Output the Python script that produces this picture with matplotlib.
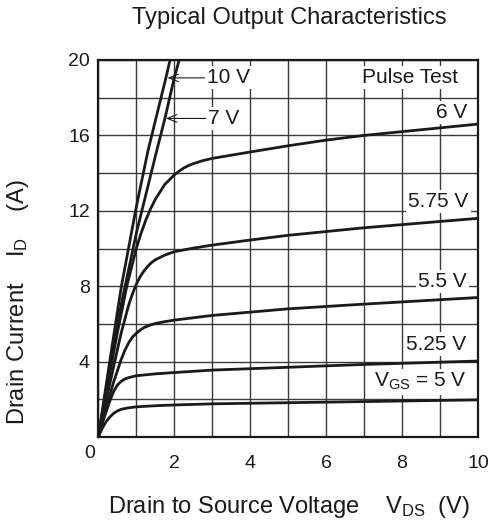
import matplotlib
matplotlib.use("Agg")
import matplotlib.pyplot as plt
from matplotlib.ticker import MultipleLocator

# ------------------------------------------------------------
# Fonts
# ------------------------------------------------------------
plt.rcParams["font.family"] = ["Liberation Sans", "DejaVu Sans"]
plt.rcParams["mathtext.fontset"] = "custom"
plt.rcParams["mathtext.rm"] = "Liberation Sans"
plt.rcParams["mathtext.it"] = "Liberation Sans"
plt.rcParams["mathtext.bf"] = "Liberation Sans:bold"

# ------------------------------------------------------------
# Data (V_DS in V, I_D in A)
# ------------------------------------------------------------
VDS_10V = [0, 0.3, 0.6, 1.0, 1.31, 1.78, 1.89, 2.0]
ID_10V = [0, 4.0, 7.9, 12.2, 15.2, 19.05, 20.0, 20.9]

VDS_7V = [0, 0.3, 0.6, 1.0, 1.54, 1.755, 2.0, 2.13, 2.25]
ID_7V = [0, 3.6, 7.0, 10.8, 15.2, 16.9, 19.05, 20.0, 21.0]

VDS_6V = [0, 0.25, 0.5, 0.75, 1.0, 1.125, 1.25, 1.375, 1.5, 1.625, 1.75, 1.875, 2.0,
          2.125, 2.25, 2.375, 2.5, 2.75, 3.0, 3.5, 4, 5, 6, 7, 8, 9, 10]
ID_6V = [0, 2.8, 5.5, 8.0, 10.0, 10.8, 11.5, 12.1, 12.6, 13.0, 13.4, 13.65, 13.9,
         14.1, 14.27, 14.4, 14.5, 14.66, 14.78, 14.95, 15.12, 15.45, 15.75, 16.0, 16.2, 16.4, 16.6]

VDS_575V = [0, 0.2, 0.4, 0.6, 0.8, 0.9, 1.0, 1.1, 1.2, 1.3, 1.4, 1.5, 1.75, 2.0,
            2.5, 3, 4, 5, 7, 10]
ID_575V = [0, 1.9, 3.7, 5.5, 7.0, 7.6, 8.1, 8.5, 8.8, 9.05, 9.25, 9.4, 9.65, 9.83,
           10.02, 10.18, 10.45, 10.7, 11.1, 11.6]

VDS_55V = [0, 0.1, 0.2, 0.3, 0.4, 0.5, 0.6, 0.7, 0.8, 0.9, 1.0, 1.1, 1.2, 1.35,
           1.5, 1.75, 2, 3, 5, 7, 10]
ID_55V = [0, 0.75, 1.5, 2.2, 2.9, 3.5, 4.1, 4.6, 5.0, 5.3, 5.5, 5.67, 5.8, 5.93,
          6.02, 6.12, 6.2, 6.45, 6.8, 7.05, 7.4]

VDS_525V = [0, 0.1, 0.2, 0.3, 0.4, 0.5, 0.6, 0.7, 0.8, 1.0, 1.5, 2, 3, 5, 7, 10]
ID_525V = [0, 0.7, 1.3, 1.9, 2.4, 2.75, 2.95, 3.08, 3.15, 3.25, 3.35, 3.42, 3.55, 3.7, 3.85, 4.03]

VDS_5V = [0, 0.1, 0.2, 0.3, 0.4, 0.5, 0.6, 0.8, 1.0, 1.5, 2, 3, 5, 7, 10]
ID_5V = [0, 0.45, 0.8, 1.05, 1.25, 1.38, 1.47, 1.55, 1.6, 1.66, 1.7, 1.76, 1.82, 1.88, 1.97]

X_TICKS = [2, 4, 6, 8, 10]
Y_TICKS = [4, 8, 12, 16, 20]

# ------------------------------------------------------------
# Draw
# ------------------------------------------------------------
fig = plt.figure(figsize=(4.91, 5.24), dpi=100)
ax = fig.add_axes([0.2002, 0.166, 0.7733, 0.7195])

curves = [
    (VDS_10V, ID_10V),
    (VDS_7V, ID_7V),
    (VDS_6V, ID_6V),
    (VDS_575V, ID_575V),
    (VDS_55V, ID_55V),
    (VDS_525V, ID_525V),
    (VDS_5V, ID_5V),
]
for vx, iy in curves:
    ax.plot(vx, iy, color="#1a1a1a", lw=2.0, solid_capstyle="round",
            solid_joinstyle="round", zorder=3)

ax.set_xlim(0, 10)
ax.set_ylim(0, 20)
ax.set_xticks(X_TICKS)
ax.set_yticks(Y_TICKS)
ax.xaxis.set_minor_locator(MultipleLocator(1))
ax.yaxis.set_minor_locator(MultipleLocator(2))
ax.tick_params(which="both", length=0, labelsize=14, colors="#1a1a1a")
ax.tick_params(axis="x", pad=13)
ax.tick_params(axis="y", pad=6)
ax.grid(which="both", color="#3a3a3a", lw=1.0, zorder=1)
for sp in ax.spines.values():
    sp.set_linewidth(1.6)
    sp.set_color("#1a1a1a")
    sp.set_zorder(4)

ax.text(-0.22, -0.85, "0", fontsize=14, ha="center", va="center", color="#1a1a1a", clip_on=False)

box = dict(facecolor="white", edgecolor="none", pad=1.5)
lab = dict(fontsize=15, color="#1a1a1a", va="center", bbox=box, zorder=2.5)

ax.text(9.47, 19.05, "Pulse Test", ha="right", **lab)
ax.text(9.73, 17.2, "6 V", ha="right", **lab)
ax.text(9.75, 12.5, "5.75 V", ha="right", **lab)
ax.text(9.7, 8.24, "5.5 V", ha="right", **lab)
ax.text(9.7, 4.93, "5.25 V", ha="right", **lab)
ax.text(9.7, 2.93, r"V$_{\rm GS}$ = 5 V", ha="right", **lab)

arrow = dict(arrowstyle="->,head_length=0.45,head_width=0.18", lw=0.8, color="#1a1a1a", shrinkA=0, shrinkB=0)
ax.annotate("10 V", xy=(1.82, 19.05), xytext=(2.86, 19.05), ha="left", arrowprops=arrow, **lab)
ax.annotate("7 V", xy=(1.78, 16.9), xytext=(2.9, 16.9), ha="left", arrowprops=arrow, **lab)

fig.text(289 / 491, 1 - 18 / 524, "Typical Output Characteristics", fontsize=17,
         ha="center", va="center", color="#1a1a1a")
fig.text(289 / 491, 1 - 507 / 524, r"Drain to Source Voltage    V$_{\rm DS}$  (V)", fontsize=17,
         ha="center", va="center", color="#1a1a1a")
fig.text(18 / 491, 1 - 302 / 524, r"Drain Current    I$_{\rm D}$    (A)", fontsize=17,
         ha="center", va="center", rotation=90, color="#1a1a1a")

fig.savefig("out.png", dpi=100)
